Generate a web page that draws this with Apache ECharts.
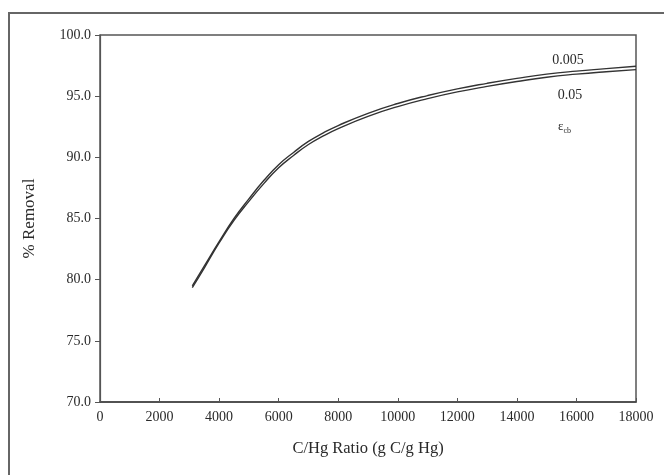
<!DOCTYPE html>
<html>
<head>
<meta charset="utf-8">
<script src="https://cdn.jsdelivr.net/npm/echarts@6/dist/echarts.min.js"></script>
<style>
  html, body { margin: 0; padding: 0; background: #fff; }
  #chart { width: 664px; height: 475px; }
</style>
</head>
<body>
<div id="chart"></div>
<script>
// C/Hg ratio (g C / g Hg)
var ratio = [3100, 3500, 4000, 4500, 5000, 5500, 6000, 6500, 7000, 7500, 8000,
  9000, 10000, 11000, 12000, 13000, 14000, 15000, 16000, 17000, 18000];
// % removal, eps_cb = 0.005
var removal005 = [79.5, 81.1, 83.1, 85.0, 86.6, 88.1, 89.4, 90.4, 91.3, 92.0, 92.6,
  93.6, 94.4, 95.05, 95.6, 96.05, 96.45, 96.8, 97.05, 97.25, 97.45];
// % removal, eps_cb = 0.05
var removal05 = [79.35, 80.95, 83.0, 84.85, 86.4, 87.85, 89.15, 90.15, 91.05, 91.75, 92.35,
  93.35, 94.15, 94.8, 95.35, 95.8, 96.2, 96.55, 96.8, 97.0, 97.17];
var yTicks = ["70.0", "75.0", "80.0", "85.0", "90.0", "95.0", "100.0"];

function pairs(xs, ys) {
  return xs.map(function (x, i) { return [x, ys[i]]; });
}

var font = "'Liberation Serif', 'Times New Roman', serif";
var ink = "#2a2a2a";

var chart = echarts.init(document.getElementById("chart"));
var option = {
  animation: false,
  backgroundColor: "#fff",
  textStyle: { fontFamily: font },
  grid: {
    left: 100,
    right: 28,
    top: 35,
    bottom: 73,
    show: true,
    borderColor: "#555",
    borderWidth: 1.5,
  },
  graphic: [
    {
      type: "rect",
      shape: { x: 9, y: 13, width: 700, height: 520 },
      style: { fill: null, stroke: "#666", lineWidth: 2 },
      silent: true,
    },
  ],
  xAxis: {
    type: "value",
    min: 0,
    max: 18000,
    interval: 2000,
    name: "C/Hg Ratio (g C/g Hg)",
    nameLocation: "middle",
    nameGap: 38,
    nameTextStyle: { fontFamily: font, fontSize: 16.5, color: ink },
    axisLine: { lineStyle: { color: "#444", width: 1.5 } },
    axisTick: { inside: true, length: 4, lineStyle: { color: "#555" } },
    axisLabel: {
      fontFamily: font,
      fontSize: 14,
      color: ink,
      margin: 8,
      formatter: function (v) { return String(v); },
    },
    splitLine: { show: false },
  },
  yAxis: {
    type: "value",
    min: 70,
    max: 100,
    interval: 5,
    name: "% Removal",
    nameLocation: "middle",
    nameGap: 62,
    nameTextStyle: { fontFamily: font, fontSize: 17, color: ink },
    axisLine: { show: true, lineStyle: { color: "#555", width: 1.2 } },
    axisTick: { show: true, length: 5, lineStyle: { color: "#555" } },
    axisLabel: {
      fontFamily: font,
      fontSize: 14,
      color: ink,
      margin: 9,
      formatter: function (v) {
        return yTicks[Math.round((v - 70) / 5)];
      },
    },
    splitLine: { show: false },
  },
  series: [
    {
      name: "0.005",
      type: "line",
      smooth: true,
      showSymbol: false,
      data: pairs(ratio, removal005),
      lineStyle: { color: "#333", width: 1.4 },
      markPoint: {
        symbol: "circle",
        symbolSize: 1,
        itemStyle: { color: "rgba(0,0,0,0)" },
        label: { show: true, position: "inside", fontFamily: font, fontSize: 14, color: ink },
        data: [
          { coord: [15720, 97.95], label: { formatter: "0.005" } },
          { coord: [15780, 95.05], label: { formatter: "0.05" } },
          {
            coord: [15600, 92.5],
            label: {
              formatter: "{e|ε}{s|cb}",
              rich: {
                e: { fontFamily: font, fontSize: 13, color: ink },
                s: { fontFamily: font, fontSize: 8, color: ink, padding: [8, 0, 0, 0] },
              },
            },
          },
        ],
      },
    },
    {
      name: "0.05",
      type: "line",
      smooth: true,
      showSymbol: false,
      data: pairs(ratio, removal05),
      lineStyle: { color: "#333", width: 1.4 },
    },
  ],
};
chart.setOption(option);
</script>
</body>
</html>
